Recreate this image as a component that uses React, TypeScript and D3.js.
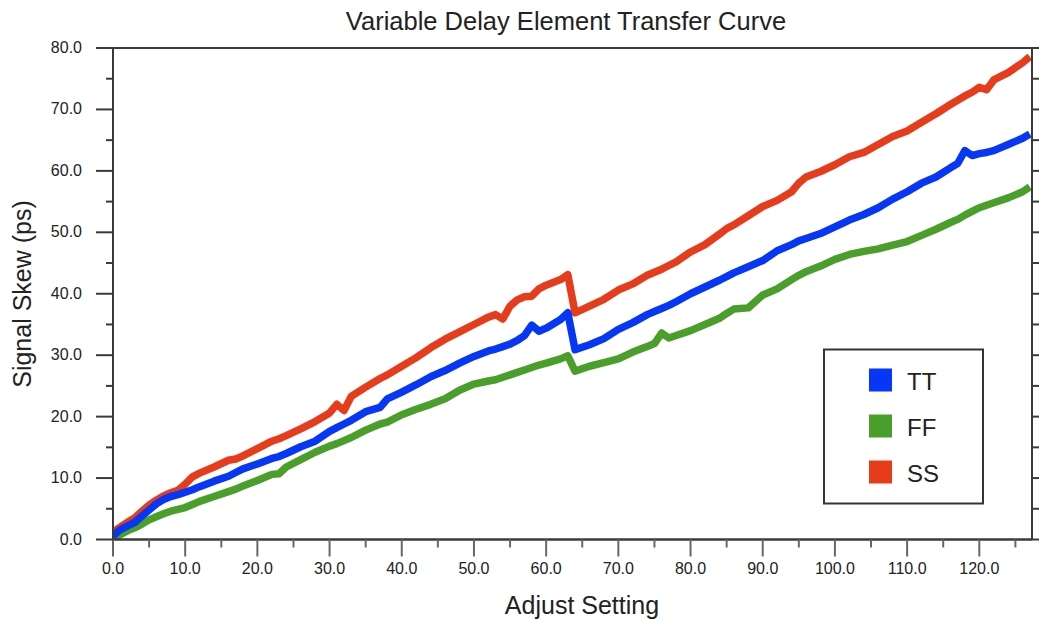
import React from "react";
import * as d3 from "d3";

const settings = [0, 1, 2, 3, 4, 5, 6, 7, 8, 9, 10, 11, 12, 14, 16, 17, 18, 20, 22, 23, 24, 26, 28, 30, 31, 32, 33, 35, 37, 38, 40, 42, 44, 46, 48, 50, 52, 53, 54, 55, 56, 57, 58, 59, 60, 62, 63, 64, 66, 68, 70, 72, 74, 75, 76, 77, 78, 80, 82, 84, 85, 86, 88, 90, 92, 94, 95, 96, 98, 100, 102, 104, 106, 108, 110, 112, 114, 116, 117, 118, 119, 120, 121, 122, 124, 126, 127];

const ttValues = [0.6, 1.6, 2.2, 2.8, 3.8, 4.8, 5.8, 6.5, 7.0, 7.3, 7.7, 8.1, 8.6, 9.5, 10.3, 10.9, 11.5, 12.3, 13.2, 13.5, 14.0, 15.1, 16.0, 17.6, 18.2, 18.8, 19.4, 20.8, 21.5, 22.9, 24.0, 25.2, 26.5, 27.5, 28.7, 29.8, 30.7, 31.0, 31.4, 31.8, 32.4, 33.2, 34.9, 33.9, 34.4, 35.8, 36.9, 30.9, 31.7, 32.7, 34.2, 35.3, 36.6, 37.1, 37.6, 38.1, 38.7, 40.0, 41.1, 42.2, 42.8, 43.4, 44.4, 45.4, 47.0, 48.0, 48.6, 49.0, 49.8, 50.9, 52.0, 52.9, 54.0, 55.4, 56.6, 58.0, 59.0, 60.5, 61.2, 63.3, 62.5, 62.8, 63.0, 63.3, 64.3, 65.3, 66.0];

const ffValues = [0.2, 0.8, 1.4, 1.9, 2.5, 3.2, 3.7, 4.2, 4.6, 4.9, 5.2, 5.7, 6.2, 7.0, 7.8, 8.2, 8.7, 9.6, 10.6, 10.7, 11.8, 13.0, 14.2, 15.2, 15.6, 16.1, 16.6, 17.8, 18.8, 19.1, 20.3, 21.2, 22.0, 22.9, 24.3, 25.3, 25.8, 26.0, 26.4, 26.8, 27.2, 27.6, 28.0, 28.4, 28.7, 29.4, 29.9, 27.4, 28.2, 28.8, 29.4, 30.5, 31.4, 31.9, 33.6, 32.8, 33.2, 34.0, 35.0, 36.0, 36.8, 37.5, 37.7, 39.8, 40.8, 42.3, 43.0, 43.6, 44.5, 45.6, 46.4, 46.9, 47.3, 47.9, 48.5, 49.5, 50.5, 51.6, 52.1, 52.8, 53.4, 54.0, 54.4, 54.8, 55.6, 56.6, 57.4];

const ssValues = [1.2, 2.0, 2.8, 3.5, 4.6, 5.6, 6.4, 7.1, 7.6, 8.0, 9.0, 10.2, 10.8, 11.8, 12.9, 13.1, 13.6, 14.8, 16.0, 16.4, 16.9, 18.0, 19.2, 20.6, 22.0, 21.0, 23.3, 24.8, 26.2, 26.8, 28.2, 29.6, 31.2, 32.6, 33.8, 35.0, 36.2, 36.6, 35.9, 38.0, 39.0, 39.5, 39.6, 40.8, 41.4, 42.3, 43.1, 36.9, 38.0, 39.1, 40.6, 41.6, 43.0, 43.5, 44.0, 44.6, 45.2, 46.8, 48.0, 49.7, 50.6, 51.2, 52.7, 54.2, 55.2, 56.6, 58.0, 59.0, 59.9, 61.0, 62.3, 63.0, 64.3, 65.6, 66.5, 67.9, 69.3, 70.8, 71.5, 72.2, 72.8, 73.6, 73.2, 74.8, 76.0, 77.6, 78.6];

const seriesNames = ["TT", "FF", "SS"];
const seriesColors = ["#0636f6", "#4a9e2a", "#e63c1c"];
const seriesData = [ttValues, ffValues, ssValues];

const xTicks = d3.range(0, 121, 10);
const xMinor = d3.range(5, 127, 10);
const yTicks = d3.range(0, 81, 10);
const yMinor = d3.range(5, 80, 10);
const rightTicks = d3.range(0, 81, 5);

const title = "Variable Delay Element Transfer Curve";
const xTitle = "Adjust Setting";
const yTitle = "Signal Skew (ps)";

export default function App() {
  const W = 1039, H = 623;
  const left = 113, right = 1032, top = 48, bottom = 539.5;
  const x = d3.scaleLinear().domain([0, 127.3]).range([left, right]);
  const y = d3.scaleLinear().domain([0, 80]).range([bottom, top]);
  const line = d3.line<number>().x((_, i) => x(settings[i])).y((v) => y(v));
  const font = "'Liberation Sans', Arial, sans-serif";
  const axisColor = "#3a3a3a";
  const drawOrder = [2, 1, 0];
  return (
    <svg width={W} height={H} style={{ position: "absolute", left: 0, top: 0, background: "#fff" }}>
      <defs>
        <clipPath id="plotclip">
          <rect x={left} y={top} width={right - left} height={bottom - top} />
        </clipPath>
      </defs>
      <rect x={0} y={0} width={W} height={H} fill="#fff" />
      <text x={566} y={30} textAnchor="middle" fontFamily={font} fontSize={25.5} fill="#222">{title}</text>
      <g clipPath="url(#plotclip)">
        {drawOrder.map((k) => (
          <path key={k} d={line(seriesData[k]) || ""} fill="none" stroke={seriesColors[k]} strokeWidth={7.5} strokeLinejoin="round" strokeLinecap="butt" />
        ))}
      </g>
      <line x1={left} y1={top} x2={right} y2={top} stroke={axisColor} strokeWidth={2} />
      <line x1={right} y1={top} x2={right} y2={bottom} stroke={axisColor} strokeWidth={2} />
      <line x1={left} y1={top} x2={left} y2={bottom} stroke={axisColor} strokeWidth={2} />
      <line x1={left} y1={bottom} x2={right} y2={bottom} stroke={axisColor} strokeWidth={2.5} />
      {xTicks.map((t) => (
        <g key={"xt" + t}>
          <line x1={x(t)} x2={x(t)} y1={bottom} y2={bottom + 17} stroke="#666" strokeWidth={2} />
          <text x={x(t)} y={573.5} textAnchor="middle" fontFamily={font} fontSize={16} fill="#222">{t.toFixed(1)}</text>
        </g>
      ))}
      {xMinor.map((t) => (
        <line key={"xm" + t} x1={x(t)} x2={x(t)} y1={bottom} y2={bottom + 8} stroke="#666" strokeWidth={2} />
      ))}
      {yTicks.map((t) => (
        <g key={"yt" + t}>
          <line x1={left - 17} x2={left} y1={y(t)} y2={y(t)} stroke={axisColor} strokeWidth={2} />
          <text x={82} y={y(t) + 5} textAnchor="end" fontFamily={font} fontSize={16} fill="#222">{t.toFixed(1)}</text>
        </g>
      ))}
      {yMinor.map((t) => (
        <line key={"ym" + t} x1={left - 7} x2={left} y1={y(t)} y2={y(t)} stroke={axisColor} strokeWidth={2} />
      ))}
      {rightTicks.map((t) => (
        <line key={"rt" + t} x1={right} x2={right + 7} y1={y(t)} y2={y(t)} stroke={axisColor} strokeWidth={2} />
      ))}
      <text x={582} y={614} textAnchor="middle" fontFamily={font} fontSize={25} fill="#222">{xTitle}</text>
      <text transform={`translate(31, 294) rotate(-90)`} textAnchor="middle" fontFamily={font} fontSize={25} fill="#222">{yTitle}</text>
      <rect x={824} y={349.5} width={159} height={154} fill="#fff" stroke="#333" strokeWidth={2} />
      {seriesNames.map((n, i) => (
        <g key={n}>
          <rect x={869} y={368.5 + i * 46} width={23} height={23} fill={seriesColors[i]} />
          <text x={907} y={389.5 + i * 46} fontFamily={font} fontSize={24} fill="#222">{n}</text>
        </g>
      ))}
    </svg>
  );
}
